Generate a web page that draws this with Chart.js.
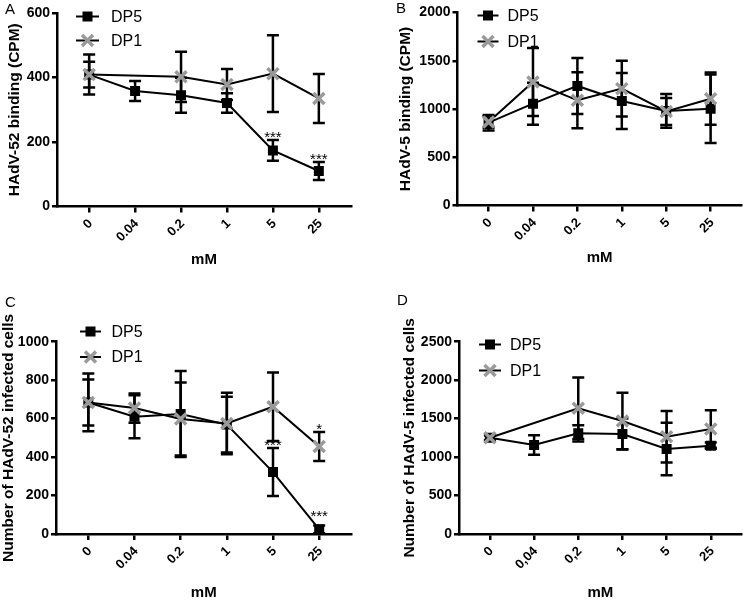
<!DOCTYPE html>
<html>
<head>
<meta charset="utf-8">
<script src="https://cdn.jsdelivr.net/npm/chart.js@4/dist/chart.umd.min.js"></script>
<style>
  html, body { margin:0; padding:0; background:#fff; }
  #wrap { position:relative; width:753px; height:600px; overflow:hidden; font-family:"Liberation Sans", Arial, sans-serif; }
  canvas { position:absolute; }
  .lbl { position:absolute; font-size:15px; color:#000; line-height:15px; }
</style>
</head>
<body>
<div id="wrap">
  <canvas id="cA" width="376" height="300" style="left:0;top:0"></canvas>
  <canvas id="cB" width="377" height="300" style="left:376px;top:0"></canvas>
  <canvas id="cC" width="376" height="300" style="left:0;top:300px"></canvas>
  <canvas id="cD" width="377" height="300" style="left:376px;top:300px"></canvas>
  <div class="lbl" style="left:5px;top:1px">A</div>
  <div class="lbl" style="left:396px;top:0px">B</div>
  <div class="lbl" style="left:5px;top:294px">C</div>
  <div class="lbl" style="left:397px;top:292px">D</div>
</div>
<script>
// ---------- data ----------
const catsDot   = ['0', '0.04', '0.2', '1', '5', '25'];
const catsComma = ['0', '0,04', '0,2', '1', '5', '25'];
const seriesNames = ['DP5', 'DP1'];

// Panel A: HAdV-52 binding (CPM)
const dp5A    = [409, 358, 345, 321, 174, 110];
const dp5AErr = [40, 31, 54, 30, 32, 28];
const dp1A    = [409, null, 402, 378, 412, 335];
const dp1AErr = [62, null, 78, 48, 119, 76];
const yTicksA = [0, 200, 400, 600];

// Panel B: HAdV-5 binding (CPM)
const dp5B    = [858, 1055, 1239, 1083, 980, 1003];
const dp5BErr = [80, 218, 290, 290, 175, 355];
const dp1B    = [865, 1280, 1090, 1211, 975, 1107];
const dp1BErr = [60, 353, 290, 290, 140, 270];
const yTicksB = [0, 500, 1000, 1500, 2000];

// Panel C: Number of HAdV-52 infected cells
const dp5C    = [684, 610, 624, 569, 322, 24];
const dp5CErr = [120, 112, 224, 145, 125, 20];
const dp1C    = [684, 655, 598, 575, 662, 455];
const dp1CErr = [150, 76, 190, 160, 178, 75];
const yTicksC = [0, 200, 400, 600, 800, 1000];

// Panel D: Number of HAdV-5 infected cells
const dp5D    = [1252, 1157, 1309, 1300, 1105, 1148];
const dp5DErr = [40, 128, 105, 200, 340, 40];
const dp1D    = [1252, null, 1634, 1469, 1265, 1365];
const dp1DErr = [30, null, 400, 368, 335, 245];
const yTicksD = [0, 500, 1000, 1500, 2000, 2500];

// significance marks: [series index (0 = DP5, 1 = DP1), category index, text]
const starsA = [[0, 4, '***'], [0, 5, '***']];
const starsC = [[0, 4, '***'], [0, 5, '***'], [1, 5, '*']];
// extra vertical nudge (px) for each mark, same order
const starsANudge = [0, 0];
const starsCNudge = [0, -7, 0];

// ---------- styling / layout ----------
const FONT = '"Liberation Sans", Arial, sans-serif';
const GREY = '#9a9a9a';

const errorBarPlugin = {
  id: 'errorBars',
  beforeDatasetsDraw(chart) {
    const ctx = chart.ctx, x = chart.scales.x, y = chart.scales.y;
    ctx.save();
    ctx.strokeStyle = '#000';
    ctx.lineWidth = 2.5;
    chart.data.datasets.forEach(ds => {
      ds.data.forEach((p, i) => {
        const e = ds.errors[i];
        if (p.y == null || e == null) return;
        const px = x.getPixelForValue(p.x);
        const yt = y.getPixelForValue(p.y + e);
        const yb = y.getPixelForValue(Math.max(p.y - e, 0));
        ctx.beginPath();
        ctx.moveTo(px, yt); ctx.lineTo(px, yb);
        ctx.moveTo(px - 6, yt); ctx.lineTo(px + 6, yt);
        ctx.moveTo(px - 6, yb); ctx.lineTo(px + 6, yb);
        ctx.stroke();
      });
    });
    ctx.restore();
  }
};

// category labels under the x axis, slanted at 45 degrees
const slantLabelPlugin = {
  id: 'slantLabels',
  afterDraw(chart, args, opts) {
    const ctx = chart.ctx, x = chart.scales.x;
    ctx.save();
    ctx.fillStyle = '#000';
    ctx.font = 'bold 13px ' + FONT;
    ctx.textAlign = 'right';
    ctx.textBaseline = 'middle';
    opts.labels.forEach((t, i) => {
      ctx.save();
      ctx.translate(x.getPixelForValue(i) + 1.5, x.top + 15);
      ctx.rotate(-Math.PI / 4);
      ctx.fillText(t, 0, 0);
      ctx.restore();
    });
    ctx.restore();
  }
};

function drawSquare(ctx, x, y) { ctx.fillStyle = '#000'; ctx.fillRect(x - 5, y - 5, 10, 10); }
function drawX(ctx, x, y) {
  ctx.save(); ctx.strokeStyle = GREY; ctx.lineWidth = 3.5;
  ctx.beginPath();
  ctx.moveTo(x - 5.5, y - 5.5); ctx.lineTo(x + 5.5, y + 5.5);
  ctx.moveTo(x + 5.5, y - 5.5); ctx.lineTo(x - 5.5, y + 5.5);
  ctx.stroke(); ctx.restore();
}

const legendPlugin = {
  id: 'sideLegend',
  afterDraw(chart, args, opts) {
    const ctx = chart.ctx;
    ctx.save();
    seriesNames.forEach((name, k) => {
      const yy = opts.rows[k];
      ctx.strokeStyle = '#000'; ctx.lineWidth = 2;
      ctx.beginPath(); ctx.moveTo(opts.x1, yy); ctx.lineTo(opts.x2, yy); ctx.stroke();
      const mx = (opts.x1 + opts.x2) / 2;
      if (k === 0) drawSquare(ctx, mx, yy); else drawX(ctx, mx, yy);
      ctx.fillStyle = '#000';
      ctx.font = '16px ' + FONT;
      ctx.textBaseline = 'middle';
      ctx.textAlign = 'left';
      ctx.fillText(name, opts.tx, yy + 1);
    });
    ctx.restore();
  }
};

const starPlugin = {
  id: 'stars',
  afterDatasetsDraw(chart, args, opts) {
    if (!opts.marks) return;
    const ctx = chart.ctx, x = chart.scales.x, y = chart.scales.y;
    ctx.save();
    ctx.fillStyle = '#000';
    ctx.font = '15px ' + FONT;
    ctx.textAlign = 'center';
    ctx.textBaseline = 'alphabetic';
    opts.marks.forEach(([s, i, t], k) => {
      const ds = chart.data.datasets.find(d => d.sIndex === s);
      const p = ds.data[i], e = ds.errors[i] || 0;
      ctx.fillText(t, x.getPixelForValue(p.x), y.getPixelForValue(p.y + e) + 2 + (opts.nudge[k] || 0));
    });
    ctx.restore();
  }
};

function toPts(arr) { return arr.map((v, i) => ({ x: i, y: v })); }

function makePanel(id, p) {
  const cats = p.cats;
  new Chart(document.getElementById(id), {
    type: 'line',
    data: {
      datasets: [
        {
          label: 'DP5', sIndex: 0, order: 2,
          data: toPts(p.dp5), errors: p.dp5Err,
          borderColor: '#000', borderWidth: 2,
          pointStyle: 'rect', pointRadius: 7.07, pointBackgroundColor: '#000', pointBorderWidth: 0,
          spanGaps: true, tension: 0
        },
        {
          label: 'DP1', sIndex: 1, order: 1,
          data: toPts(p.dp1), errors: p.dp1Err,
          borderColor: '#000', borderWidth: 2,
          pointStyle: 'crossRot', pointRadius: 7.8, pointBorderColor: GREY, pointBorderWidth: 3.5,
          pointBackgroundColor: GREY,
          spanGaps: true, tension: 0
        }
      ]
    },
    options: {
      responsive: false, animation: false, devicePixelRatio: 1,
      layout: { padding: p.pad },
      plugins: {
        legend: { display: false }, tooltip: { enabled: false },
        sideLegend: p.legend,
        stars: { marks: p.stars, nudge: p.nudge || [] },
        slantLabels: { labels: cats }
      },
      scales: {
        x: {
          type: 'linear', min: -0.7, max: 5.7,
          afterBuildTicks: s => { s.ticks = cats.map((_, i) => ({ value: i })); },
          afterFit: s => { s.height = p.xH; },
          ticks: { display: false },
          grid: { drawOnChartArea: false, drawTicks: true, tickLength: 6, color: '#000', lineWidth: 2.5 },
          border: { display: true, color: '#000', width: 2.5 },
          title: { display: true, text: 'mM', color: '#000', padding: 0,
                   font: { family: FONT, size: 15, weight: 'bold', lineHeight: 1 } }
        },
        y: {
          min: 0, max: p.yTicks[p.yTicks.length - 1],
          afterBuildTicks: s => { s.ticks = p.yTicks.map(v => ({ value: v })); },
          afterFit: s => { s.width = p.yW; },
          ticks: { color: '#000', padding: 2, callback: v => String(v),
                   font: { family: FONT, size: 14, weight: 'bold' } },
          grid: { drawOnChartArea: false, drawTicks: true, tickLength: 5, color: '#000', lineWidth: 2.5 },
          border: { display: true, color: '#000', width: 2.5 },
          title: { display: true, text: p.yTitle, color: '#000', padding: 0,
                   font: { family: FONT, size: 15.5, weight: 'bold', lineHeight: 1 } }
        }
      }
    },
    plugins: [errorBarPlugin, legendPlugin, starPlugin, slantLabelPlugin]
  });
}

makePanel('cA', {
  cats: catsDot, dp5: dp5A, dp5Err: dp5AErr, dp1: dp1A, dp1Err: dp1AErr, yTicks: yTicksA,
  yTitle: 'HAdV-52 binding (CPM)', stars: starsA, nudge: starsANudge,
  pad: { left: 7.25, top: 13, right: 25, bottom: 32.5 }, yW: 49.75, xH: 61,
  legend: { x1: 76, x2: 99, tx: 111, rows: [16.5, 40.5] }
});
makePanel('cB', {
  cats: catsDot, dp5: dp5B, dp5Err: dp5BErr, dp1: dp1B, dp1Err: dp1BErr, yTicks: yTicksB,
  yTitle: 'HAdV-5 binding (CPM)', stars: null,
  pad: { left: 22.25, top: 12.5, right: 3, bottom: 34.5 }, yW: 59.25, xH: 60,
  legend: { x1: 101.5, x2: 122.5, tx: 131.5, rows: [15.5, 41.5] }
});
makePanel('cC', {
  cats: catsDot, dp5: dp5C, dp5Err: dp5CErr, dp1: dp1C, dp1Err: dp1CErr, yTicks: yTicksC,
  yTitle: 'Number of HAdV-52 infected cells', stars: starsC, nudge: starsCNudge,
  pad: { left: 0.75, top: 41.7, right: 24.5, bottom: 0 }, yW: 55.25, xH: 66,
  legend: { x1: 80, x2: 101, tx: 111.5, rows: [31.5, 57] }
});
makePanel('cD', {
  cats: catsComma, dp5: dp5D, dp5Err: dp5DErr, dp1: dp1D, dp1Err: dp1DErr, yTicks: yTicksD,
  yTitle: 'Number of HAdV-5 infected cells', stars: null,
  pad: { left: 25.75, top: 41.7, right: 1.5, bottom: 0 }, yW: 57.25, xH: 66,
  legend: { x1: 103, x2: 125, tx: 134, rows: [44.5, 70.5] }
});
</script>
</body>
</html>
